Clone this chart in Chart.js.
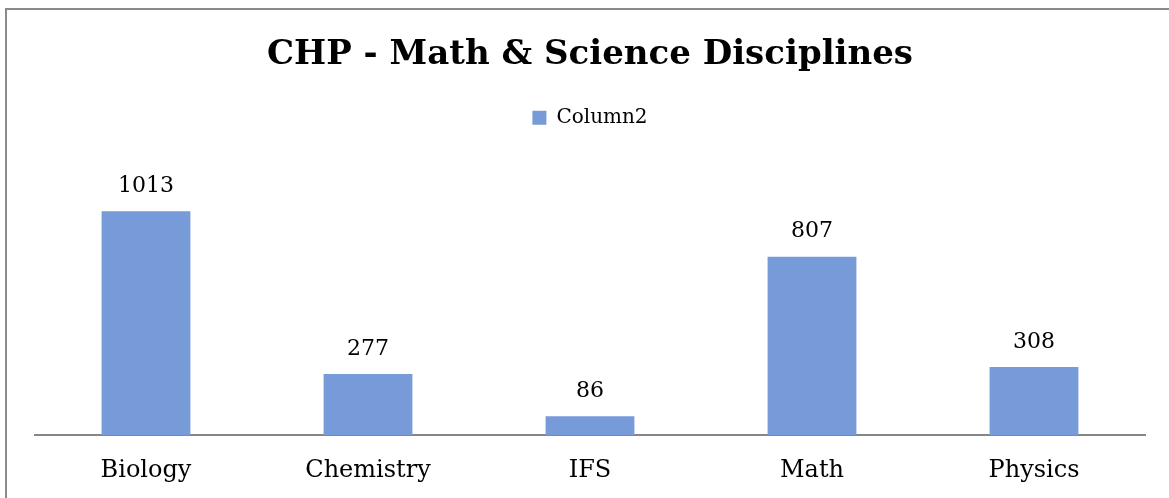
<!DOCTYPE html>
<html>
<head>
<meta charset="utf-8">
<script src="https://cdn.jsdelivr.net/npm/chart.js@4.4.1/dist/chart.umd.min.js"></script>
<style>
  html, body { margin: 0; padding: 0; background: #fff; overflow: hidden; }
  #wrap { position: relative; width: 1169px; height: 498px; overflow: hidden; }
  #frame {
    position: absolute; left: 5px; top: 8px; width: 1300px; height: 600px;
    border: 2px solid #8a8a8a; box-sizing: border-box;
  }
  #chart-box { position: absolute; left: 0; top: 0; width: 1169px; height: 506px; }
</style>
</head>
<body>
<div id="wrap">
  <div id="frame"></div>
  <div id="chart-box"><canvas id="disciplines-chart"></canvas></div>
</div>
<script>
'use strict';

// ******** DATA **************
let disciplines = ['Biology', 'Chemistry', 'IFS', 'Math', 'Physics'];
let column2Values = [1013, 277, 86, 807, 308];
let seriesName = 'Column2';
let chartTitle = 'CHP - Math & Science Disciplines';
let yAxisMax = 1200;

// ******** STYLE **************
let barColor = '#779ad9';
let axisColor = '#868686';
let serifFont = '"DejaVu Serif", "Liberation Serif", serif';

// small plugin that writes the value above each bar
let valueLabels = {
  id: 'valueLabels',
  afterDatasetsDraw(chart){
    let ctx = chart.ctx;
    ctx.save();
    ctx.font = '22px ' + serifFont;
    ctx.fillStyle = '#000';
    ctx.textAlign = 'center';
    ctx.textBaseline = 'middle';
    chart.data.datasets.forEach((dataset, i) => {
      let meta = chart.getDatasetMeta(i);
      meta.data.forEach((bar, j) => {
        ctx.fillText(dataset.data[j], bar.x, bar.y - 25);
      });
    });
    ctx.restore();
  }
};

// extra room between the legend and the bars
let legendGap = {
  id: 'legendGap',
  beforeInit(chart){
    let originalFit = chart.legend.fit;
    chart.legend.fit = function(){
      originalFit.bind(chart.legend)();
      this.height += 32;
    };
  }
};

let chartCanvas = document.getElementById('disciplines-chart');

let chartSettings = {
  type: 'bar',
  data: {
    labels: disciplines,
    datasets: [{
      label: seriesName,
      data: column2Values,
      backgroundColor: barColor,
      borderWidth: 0,
      barPercentage: 0.4,
      categoryPercentage: 1
    }]
  },
  options: {
    responsive: true,
    maintainAspectRatio: false,
    animation: false,
    layout: {
      padding: { left: 35, right: 24, top: 0, bottom: 8 }
    },
    plugins: {
      title: {
        display: true,
        text: chartTitle,
        color: '#000',
        font: { family: serifFont, size: 34, weight: 'bold', lineHeight: 1.2 },
        padding: { top: 35, bottom: 26 }
      },
      legend: {
        display: true,
        labels: {
          color: '#000',
          font: { family: serifFont, size: 20 },
          boxWidth: 14,
          boxHeight: 14,
          padding: 6
        }
      },
      tooltip: { enabled: false }
    },
    scales: {
      x: {
        grid: { display: false },
        border: { display: true, color: axisColor, width: 2 },
        ticks: {
          color: '#000',
          font: { family: serifFont, size: 24 },
          padding: 13
        }
      },
      y: {
        display: false,
        min: 0,
        max: yAxisMax
      }
    }
  },
  plugins: [valueLabels, legendGap]
};

new Chart(chartCanvas, chartSettings);
</script>
</body>
</html>
